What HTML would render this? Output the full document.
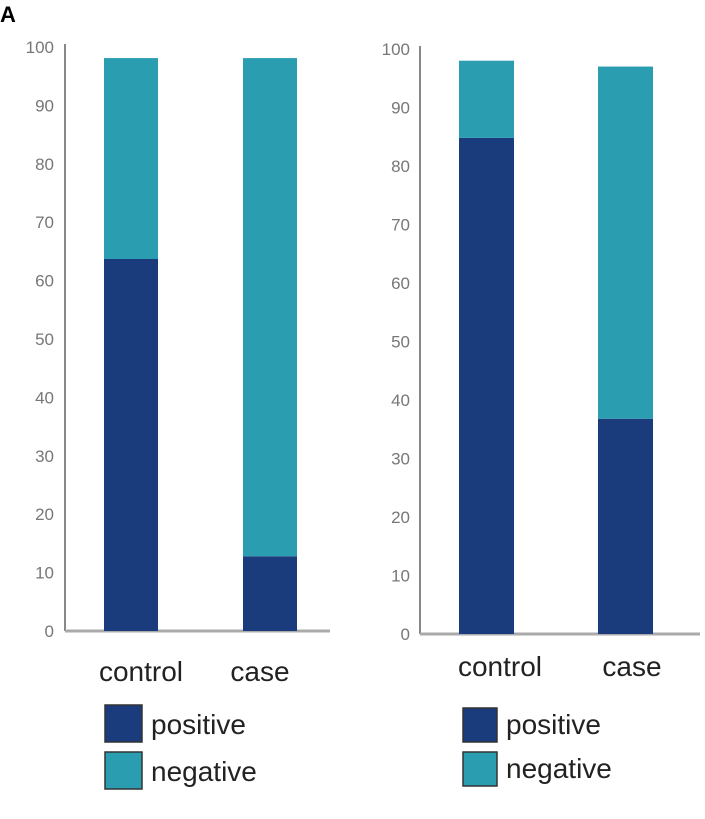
<!DOCTYPE html>
<html><head><meta charset="utf-8"><style>
body{margin:0;background:#fff;width:705px;height:819px;overflow:hidden}
svg{display:block;font-family:"Liberation Sans",sans-serif}
</style></head><body>
<svg id="c" width="705" height="819">
<text x="0" y="22" font-size="22" font-weight="bold" fill="#000">A</text>
</svg>
<script>
const categories=["control","case"];
const leftPositive=[63.7,12.8];
const leftNegative=[34.4,85.3];
const rightPositive=[84.8,36.8];
const rightNegative=[13.2,60.2];
const ticks=[0,10,20,30,40,50,60,70,80,90,100];
const tickLabels=["0","10","20","30","40","50","60","70","80","90","100"];
const seriesNames=["positive","negative"];
const NS="http://www.w3.org/2000/svg";
const svg=document.getElementById('c');
const DARK="#1b3c7c",TEAL="#2a9db1";
function mk(t,a,p){const e=document.createElementNS(NS,t);for(const k in a)e.setAttribute(k,a[k]);(p||svg).appendChild(e);return e;}
function panel(cfg,pos,neg,name){
  const g=mk('g',{});
  
  
  const y=v=>cfg.y0-v*(cfg.y0-cfg.y100)/100;
  const ax=mk('line',{x1:cfg.ax,y1:cfg.y100-3,x2:cfg.ax,y2:cfg.y0,stroke:'#888','stroke-width':2},g);
  
  
  const bx=mk('line',{x1:cfg.ax,y1:cfg.y0,x2:cfg.axEnd,y2:cfg.y0,stroke:'#aaa','stroke-width':3},g);
  
  
  ticks.forEach((t,i)=>{
    const tx=mk('text',{x:cfg.tickX,y:y(t)+6,'text-anchor':'end','font-size':17,fill:'#777'},g);
    tx.textContent=tickLabels[i];
    
    
  });
  categories.forEach((c,i)=>{
    const x=cfg.barX[i];
    const r1=mk('rect',{x:x,y:y(pos[i]),width:cfg.bw,height:y(0)-y(pos[i]),fill:DARK},g);
    
    
    const r2=mk('rect',{x:x,y:y(pos[i]+neg[i]),width:cfg.bw,height:y(pos[i])-y(pos[i]+neg[i]),fill:TEAL},g);
    
    
    const lt=mk('text',{x:cfg.labX[i],y:cfg.labY,'text-anchor':'middle','font-size':28,fill:'#222'},g);
    lt.textContent=c;
    
    
  });
  seriesNames.forEach((s,i)=>{
    const yy=cfg.legY+i*cfg.legStep;
    const sq=mk('rect',{x:cfg.legX,y:yy,width:cfg.legS,height:cfg.legS,fill:i?TEAL:DARK,stroke:'#333','stroke-width':1.5},g);
    
    
    const tx=mk('text',{x:cfg.legX+cfg.legS+9,y:yy+cfg.legS-8,'font-size':28,fill:'#222'},g);
    tx.textContent=s;
    
    
  });
}
panel({ax:65,axEnd:330,y0:631,y100:47,tickX:54,barX:[104,243],bw:54,labX:[141,260],labY:681,legX:105,legY:705,legStep:47,legS:37},leftPositive,leftNegative,'left-chart');
panel({ax:420,axEnd:700,y0:634,y100:49,tickX:410,barX:[459,598],bw:55,labX:[500,632],labY:676,legX:463,legY:708,legStep:44,legS:34},rightPositive,rightNegative,'right-chart');
</script>
</body></html>
